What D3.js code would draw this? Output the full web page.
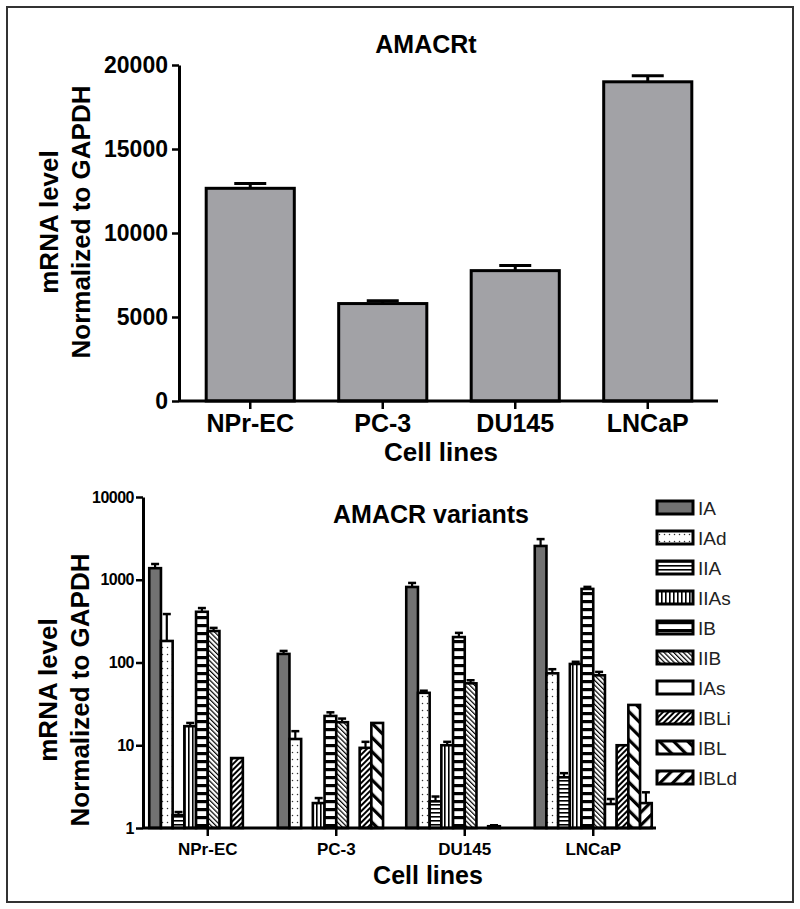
<!DOCTYPE html>
<html>
<head>
<meta charset="utf-8">
<script src="https://cdn.jsdelivr.net/npm/d3@7"></script>
<style>
  body { margin: 0; background: #fff; }
  svg text { font-family: "Liberation Sans", Arial, sans-serif; }
</style>
</head>
<body>
<div id="chart"></div>
<script>
// AMACR charts
const cells = ['NPr-EC', 'PC-3', 'DU145', 'LNCaP'];

// top: total AMACR
const totalVals = [12660, 5800, 7760, 19000];
const totalErr = [280, 160, 300, 360];
const totalTicks = [0, 5000, 10000, 15000, 20000];

// bottom: variants (null = no bar)
const variants = ['IA', 'IAd', 'IIA', 'IIAs', 'IB', 'IIB', 'IAs', 'IBLi', 'IBL', 'IBLd'];
const npreVals  = [1380, 182, 1.43, 17, 410, 240, null, 7.0, null, null];
const npreErr   = [170, 203, 0.13, 1.6, 45, 22, null, null, null, null];
const pc3Vals   = [127, 11.9, null, 2.0, 22.6, 19, null, 9.3, 18.6, null];
const pc3Err    = [11, 2.9, null, 0.3, 2.4, 2, null, 1.7, null, null];
const du145Vals = [818, 43, 2.1, 10, 203, 56, null, 1.05, null, null];
const du145Err  = [97, 2.6, 0.3, 1, 25, 5, null, 0.03, null, null];
const lncapVals = [2560, 74, 4.1, 96, 775, 70, 1.95, 10, 30.7, 2.0];
const lncapErr  = [540, 9, 0.5, 6, 45, 7, 0.29, null, null, 0.7];
const logTicks = [1, 10, 100, 1000, 10000];

const W = 800, H = 909;
const svg = d3.select('#chart').append('svg').attr('width', W).attr('height', H);

// outer frame
svg.append('rect').attr('x', 7).attr('y', 7).attr('width', 786).attr('height', 895)
  .attr('fill', 'none').attr('stroke', '#333').attr('stroke-width', 2);

// ---------- patterns ----------
// note: rotate(45) -> "/" lines, rotate(-45) -> "\" lines
const defs = svg.append('defs');
function pat(id, w, h, rot, draw) {
  const p = defs.append('pattern').attr('id', id)
    .attr('patternUnits', 'userSpaceOnUse').attr('width', w).attr('height', h);
  if (rot) p.attr('patternTransform', `rotate(${rot})`);
  p.append('rect').attr('width', w).attr('height', h).attr('fill', '#fff');
  draw(p);
}
pat('p-dots', 5, 7, 0, p => p.append('circle').attr('cx', 2.5).attr('cy', 3.5).attr('r', 0.75).attr('fill', '#333'));
pat('p-hthin', 4, 4, 0, p => p.append('rect').attr('y', 0).attr('width', 4).attr('height', 1.6).attr('fill', '#000'));
pat('p-vthin', 4, 4, 0, p => p.append('rect').attr('x', 0).attr('width', 1.6).attr('height', 4).attr('fill', '#000'));
pat('p-ladder', 8, 8, 0, p => p.append('rect').attr('y', 0).attr('width', 8).attr('height', 3.2).attr('fill', '#000'));
pat('p-diagthin', 3.4, 3.4, -45, p => p.append('rect').attr('width', 1.2).attr('height', 3.4).attr('fill', '#000'));
pat('p-diagdense', 4, 4, 45, p => p.append('rect').attr('width', 2).attr('height', 4).attr('fill', '#000'));
pat('p-diagwideB', 10, 10, -45, p => p.append('rect').attr('width', 3.2).attr('height', 10).attr('fill', '#000'));
pat('p-diagwideF', 9, 9, 45, p => p.append('rect').attr('width', 3.2).attr('height', 9).attr('fill', '#000'));

const fills = {
  IA: '#727272', IAd: 'url(#p-dots)', IIA: 'url(#p-hthin)', IIAs: 'url(#p-vthin)',
  IB: 'url(#p-ladder)', IIB: 'url(#p-diagthin)', IAs: '#fff', IBLi: 'url(#p-diagdense)',
  IBL: 'url(#p-diagwideB)', IBLd: 'url(#p-diagwideF)'
};

function styleAxis(g, fs) {
  g.selectAll('path.domain').attr('stroke', '#000').attr('stroke-width', 3);
  g.selectAll('.tick line').attr('stroke', '#000').attr('stroke-width', 2.5);
  g.selectAll('.tick text').attr('fill', '#000').style('font-weight', 'bold').style('font-size', fs + 'px');
}

// ---------- top chart ----------
const topG = svg.append('g');
const xT = d3.scaleBand().domain(cells).range([184, 714]).paddingInner(0.335).paddingOuter(0.1675);
const yT = d3.scaleLinear().domain([0, 20000]).range([401, 65]);

topG.selectAll('line.err').data(cells).join('line')
  .attr('x1', d => xT(d) + xT.bandwidth() / 2).attr('x2', d => xT(d) + xT.bandwidth() / 2)
  .attr('y1', (d, i) => yT(totalVals[i])).attr('y2', (d, i) => yT(totalVals[i] + totalErr[i]))
  .attr('stroke', '#000').attr('stroke-width', 3);
topG.selectAll('line.cap').data(cells).join('line')
  .attr('x1', d => xT(d) + xT.bandwidth() / 2 - 16).attr('x2', d => xT(d) + xT.bandwidth() / 2 + 16)
  .attr('y1', (d, i) => yT(totalVals[i] + totalErr[i])).attr('y2', (d, i) => yT(totalVals[i] + totalErr[i]))
  .attr('stroke', '#000').attr('stroke-width', 3);
topG.selectAll('rect.bar').data(cells).join('rect')
  .attr('x', d => xT(d)).attr('width', xT.bandwidth())
  .attr('y', (d, i) => yT(totalVals[i])).attr('height', (d, i) => yT(0) - yT(totalVals[i]))
  .attr('fill', '#a2a2a6').attr('stroke', '#000').attr('stroke-width', 3);

const gyT = topG.append('g').attr('transform', 'translate(179,0)')
  .call(d3.axisLeft(yT).tickValues(totalTicks).tickSize(7).tickSizeOuter(0).tickPadding(4).tickFormat(d3.format('d')));
styleAxis(gyT, 23);
const gxT = topG.append('g').attr('transform', 'translate(0,401)')
  .call(d3.axisBottom(xT).tickSize(8).tickSizeOuter(0).tickPadding(5));
gxT.select('path.domain').attr('d', 'M179,0H718');
styleAxis(gxT, 25);
gxT.selectAll('.tick text').attr('dy', '0.7em');

topG.append('text').attr('x', 426).attr('y', 53).attr('text-anchor', 'middle')
  .style('font-weight', 'bold').style('font-size', '25px').text('AMACRt');
topG.append('text').attr('x', 441).attr('y', 461).attr('text-anchor', 'middle')
  .style('font-weight', 'bold').style('font-size', '26px').text('Cell lines');
topG.append('text').attr('transform', 'translate(58,222) rotate(-90)').attr('text-anchor', 'middle')
  .style('font-weight', 'bold').style('font-size', '26px').text('mRNA level');
topG.append('text').attr('transform', 'translate(90,222) rotate(-90)').attr('text-anchor', 'middle')
  .style('font-weight', 'bold').style('font-size', '26px').text('Normalized to GAPDH');

// ---------- bottom chart ----------
const bot = svg.append('g');
const groups = [
  { cell: 'NPr-EC', vals: npreVals, err: npreErr },
  { cell: 'PC-3', vals: pc3Vals, err: pc3Err },
  { cell: 'DU145', vals: du145Vals, err: du145Err },
  { cell: 'LNCaP', vals: lncapVals, err: lncapErr }
];
const x0 = d3.scaleBand().domain(cells).range([143.5, 657.5]);
const x1 = d3.scaleBand().domain(variants).range([-58.5, 58.5]);
const yB = d3.scaleLog().domain([1, 10000]).range([828, 497]);

const items = [];
groups.forEach(g => g.vals.forEach((v, i) => {
  if (v != null) items.push({ cell: g.cell, s: variants[i], v: v, e: g.err[i] });
}));

const cx = d => x0(d.cell) + x0.bandwidth() / 2 + x1(d.s);
const errItems = items.filter(d => d.e != null);
bot.selectAll('line.err').data(errItems).join('line')
  .attr('x1', d => cx(d) + x1.bandwidth() / 2).attr('x2', d => cx(d) + x1.bandwidth() / 2)
  .attr('y1', d => yB(d.v)).attr('y2', d => yB(d.v + d.e))
  .attr('stroke', '#000').attr('stroke-width', 2.2);
bot.selectAll('line.cap').data(errItems).join('line')
  .attr('x1', d => cx(d) + x1.bandwidth() / 2 - 4).attr('x2', d => cx(d) + x1.bandwidth() / 2 + 4)
  .attr('y1', d => yB(d.v + d.e)).attr('y2', d => yB(d.v + d.e))
  .attr('stroke', '#000').attr('stroke-width', 2.5);
bot.selectAll('rect.bar').data(items).join('rect')
  .attr('x', d => cx(d)).attr('width', x1.bandwidth())
  .attr('y', d => yB(d.v)).attr('height', d => yB(1) - yB(d.v))
  .attr('fill', d => fills[d.s]).attr('stroke', '#000').attr('stroke-width', 2.6);

const gyB = bot.append('g').attr('transform', 'translate(143,0)')
  .call(d3.axisLeft(yB).tickValues(logTicks).tickSize(7).tickSizeOuter(0).tickPadding(2).tickFormat(d3.format('d')));
styleAxis(gyB, 16);
gyB.selectAll('.tick text').style('letter-spacing', '-0.5px');
const gxB = bot.append('g').attr('transform', 'translate(0,828)')
  .call(d3.axisBottom(x0).tickSize(8).tickSizeOuter(0).tickPadding(6));
gxB.select('path.domain').attr('d', 'M143,0H656');
styleAxis(gxB, 17);
gxB.selectAll('.tick text').attr('dy', '0.75em');

bot.append('text').attr('x', 431).attr('y', 523).attr('text-anchor', 'middle')
  .style('font-weight', 'bold').style('font-size', '25px').text('AMACR variants');
bot.append('text').attr('x', 428).attr('y', 884).attr('text-anchor', 'middle')
  .style('font-weight', 'bold').style('font-size', '25px').text('Cell lines');
bot.append('text').attr('transform', 'translate(57,690) rotate(-90)').attr('text-anchor', 'middle')
  .style('font-weight', 'bold').style('font-size', '26px').text('mRNA level');
bot.append('text').attr('transform', 'translate(89,690) rotate(-90)').attr('text-anchor', 'middle')
  .style('font-weight', 'bold').style('font-size', '26px').text('Normalized to GAPDH');

// legend
const leg = bot.append('g').attr('transform', 'translate(657,501)');
const legRows = leg.selectAll('g').data(variants).join('g')
  .attr('transform', (d, i) => `translate(0,${i * 30})`);
legRows.append('rect').attr('width', 36).attr('height', 13)
  .attr('fill', d => fills[d]).attr('stroke', '#000').attr('stroke-width', 3);
legRows.append('text').attr('x', 41).attr('y', 14).style('font-size', '19px').attr('fill', '#222').text(d => d);
</script>
</body>
</html>
